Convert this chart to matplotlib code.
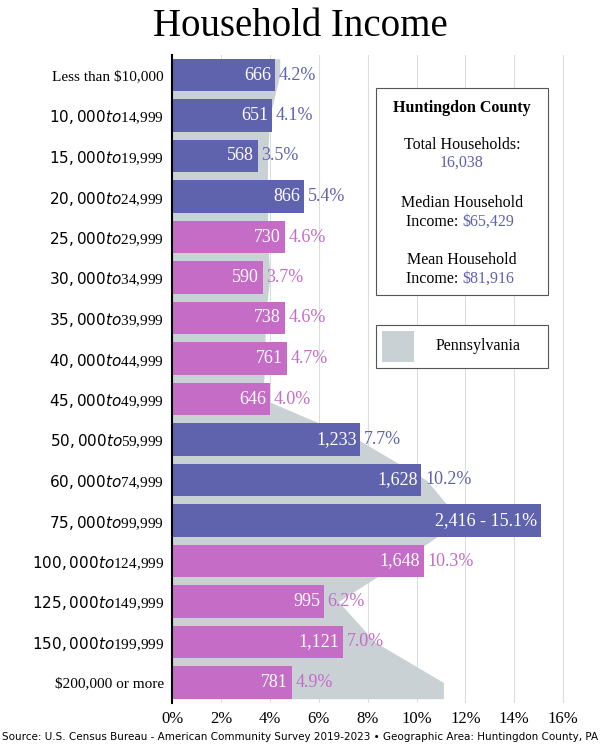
import matplotlib.pyplot as plt
import numpy as np
from matplotlib.patches import Rectangle

categories = ["Less than $10,000", "$10,000 to $14,999", "$15,000 to $19,999",
              "$20,000 to $24,999", "$25,000 to $29,999", "$30,000 to $34,999",
              "$35,000 to $39,999", "$40,000 to $44,999", "$45,000 to $49,999",
              "$50,000 to $59,999", "$60,000 to $74,999", "$75,000 to $99,999",
              "$100,000 to $124,999", "$125,000 to $149,999", "$150,000 to $199,999",
              "$200,000 or more"]
counts = ["666", "651", "568", "866", "730", "590", "738", "761", "646",
          "1,233", "1,628", "2,416", "1,648", "995", "1,121", "781"]
county_pct = [4.2, 4.1, 3.5, 5.4, 4.6, 3.7, 4.6, 4.7, 4.0, 7.7, 10.2, 15.1, 10.3, 6.2, 7.0, 4.9]
pa_pct = [4.4, 4.0, 3.9, 3.9, 3.9, 4.0, 3.8, 3.8, 3.7, 7.6, 10.4, 11.8, 9.4, 6.8, 8.3, 11.1]
highlight = [True, True, True, True, False, False, False, False, False,
             True, True, True, False, False, False, False]

BLUE = '#5f62ad'
PINK = '#c46cc6'
GRAY = '#c9d1d5'
SERIF = ['Liberation Serif', 'DejaVu Serif']

fig = plt.figure(figsize=(6, 7.5), dpi=100)
ax = fig.add_axes([0.287, 0.063, 0.68, 0.864])

n = len(categories)
y = np.arange(n)
h = 0.8

# Pennsylvania area behind the bars
py = np.concatenate([[-h / 2], y, [n - 1 + h / 2]])
px = np.concatenate([[pa_pct[0]], pa_pct, [pa_pct[-1]]])
ax.fill_betweenx(py, 0, px, color=GRAY, lw=0, zorder=1)

for xv in range(2, 17, 2):
    ax.axvline(xv, color='#dddddd', lw=0.8, zorder=0)

colors = [BLUE if hl else PINK for hl in highlight]
ax.barh(y, county_pct, height=h, color=colors, zorder=2)

for i in range(n):
    if i == 11:
        ax.text(county_pct[i] - 0.15, i, f"{counts[i]} - {county_pct[i]}%", ha='right', va='center',
                color='white', fontsize=13, family=SERIF, zorder=3)
        continue
    ax.text(county_pct[i] - 0.15, i, counts[i], ha='right', va='center',
            color='white', fontsize=13, family=SERIF, zorder=3)
    ax.text(county_pct[i] + 0.15, i, f"{county_pct[i]}%", ha='left', va='center',
            color=colors[i], fontsize=13, family=SERIF, zorder=3)

ax.set_ylim(n - 0.5, -0.5)
ax.set_xlim(0, 16.7)
ax.set_yticks(y)
ax.set_yticklabels(categories, family=SERIF, fontsize=11)
ax.set_xticks(range(0, 17, 2))
ax.set_xticklabels([f"{v}%" for v in range(0, 17, 2)], family=SERIF, fontsize=12)
ax.tick_params(length=0, pad=6)
for s in ['top', 'right', 'bottom']:
    ax.spines[s].set_visible(False)
ax.spines['left'].set_linewidth(1.5)

fig.text(0.5, 0.965, "Household Income", ha='center', va='center', fontsize=28, family=SERIF)
fig.text(0.5, 0.018, "Source: U.S. Census Bureau - American Community Survey 2019-2023 \u2022 Geographic Area: Huntingdon County, PA",
         ha='center', va='center', fontsize=7.5, family=['Liberation Sans Narrow', 'DejaVu Sans'])

# info box
fig.patches.append(Rectangle((376 / 600, 1 - 295 / 750), 172 / 600, 207 / 750,
                             transform=fig.transFigure, fill=True, fc='white', ec='#555555', lw=0.8, zorder=5))
cx = 462 / 600
def t(yp, s, **kw):
    fig.text(cx, 1 - yp / 750, s, ha='center', va='center', family=SERIF, fontsize=11.5, zorder=6, **kw)
t(108, "Huntingdon County", weight='bold')
t(145, "Total Households:")
t(163, "16,038", color=BLUE)
t(203, "Median Household")
fig.text(cx, 1 - 222 / 750, "Income: ", ha='right', va='center', family=SERIF, fontsize=11.5, zorder=6)
fig.text(cx, 1 - 222 / 750, "$65,429", ha='left', va='center', family=SERIF, fontsize=11.5, color=BLUE, zorder=6)
t(260, "Mean Household")
fig.text(cx, 1 - 279 / 750, "Income: ", ha='right', va='center', family=SERIF, fontsize=11.5, zorder=6)
fig.text(cx, 1 - 279 / 750, "$81,916", ha='left', va='center', family=SERIF, fontsize=11.5, color=BLUE, zorder=6)

# legend box
fig.patches.append(Rectangle((376 / 600, 1 - 368 / 750), 172 / 600, 43 / 750,
                             transform=fig.transFigure, fc='white', ec='#555555', lw=0.8, zorder=5))
fig.patches.append(Rectangle((382 / 600, 1 - 362 / 750), 32 / 600, 31 / 750,
                             transform=fig.transFigure, fc=GRAY, lw=0, zorder=6))
fig.text(478 / 600, 1 - 346 / 750, "Pennsylvania", ha='center', va='center', family=SERIF, fontsize=11.5, zorder=6)

fig.savefig('out.png', dpi=100)
